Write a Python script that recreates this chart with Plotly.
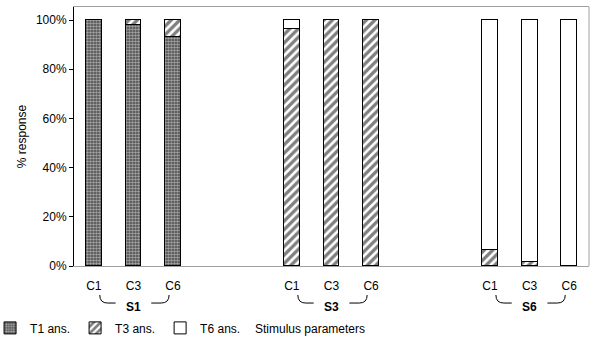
import plotly.graph_objects as go

groups = ["S1", "S3", "S6"]
conditions = ["C1", "C3", "C6"]
t1_ans = [100, 98, 93, 0, 0, 0, 0, 0, 0]
t3_ans = [0, 2, 7, 96.5, 100, 100, 6.5, 1.7, 0]
t6_ans = [0, 0, 0, 3.5, 0, 0, 93.5, 98.3, 100]
y_ticks = [0, 20, 40, 60, 80, 100]
y_tick_text = [f"{v}%" for v in y_ticks]

GROUP_STEP = 5
xs = [g * GROUP_STEP + c for g in range(len(groups)) for c in range(len(conditions))]
xlabels = [c for g in groups for c in conditions]

FONT = "Liberation Sans, Arial, sans-serif"
line = dict(color="black", width=1)

fig = go.Figure()
fig.add_bar(x=xs, y=t1_ans, name="T1 ans.", width=0.4,
            marker=dict(color="white", line=line,
                        pattern=dict(shape=".", size=3, solidity=0.6,
                                     fgcolor="white", bgcolor="#444444", fillmode="overlay")))
fig.add_bar(x=xs, y=t3_ans, name="T3 ans.", width=0.4,
            marker=dict(color="white", line=line,
                        pattern=dict(shape="/", size=6, solidity=0.55,
                                     fgcolor="black", bgcolor="white")))
fig.add_bar(x=xs, y=t6_ans, name="T6 ans.", width=0.4,
            marker=dict(color="white", line=line))

shapes = []
annotations = []
for g, name in enumerate(groups):
    base = g * GROUP_STEP
    left = base + 0.15
    right = base + 1.9
    mid = base + 1
    ytop, ybot = -0.112, -0.143
    shapes.append(dict(type="path", xref="x", yref="paper",
                       path=f"M {left},{ytop} Q {left},{ybot} {left+0.2},{ybot} L {mid-0.45},{ybot}",
                       line=dict(color="black", width=1)))
    shapes.append(dict(type="path", xref="x", yref="paper",
                       path=f"M {mid+0.45},{ybot} L {right-0.2},{ybot} Q {right},{ybot} {right},{ytop}",
                       line=dict(color="black", width=1)))
    annotations.append(dict(x=mid, y=-0.16, xref="x", yref="paper", text=f"<b>{name}</b>",
                            showarrow=False, font=dict(size=12, color="black", family=FONT),
                            xanchor="center", yanchor="middle"))

# right border
shapes.append(dict(type="line", xref="paper", yref="paper", x0=1, x1=1, y0=0, y1=1,
                   line=dict(color="#a0a0a0", width=1)))

annotations.append(dict(x=0.458, y=-0.245, xref="paper", yref="paper", text="Stimulus parameters",
                        showarrow=False, font=dict(size=12, color="black", family=FONT),
                        xanchor="center", yanchor="middle"))

fig.update_layout(
    barmode="stack",
    width=591, height=341,
    margin=dict(l=74, r=2, t=7, b=75, autoexpand=False),
    paper_bgcolor="white", plot_bgcolor="white",
    font=dict(family=FONT, size=12, color="black"),
    showlegend=True,
    legend=dict(orientation="h", x=-0.163, y=-0.239, xanchor="left", yanchor="middle",
                traceorder="normal",
                font=dict(size=12, family=FONT), bgcolor="rgba(0,0,0,0)"),
    shapes=shapes,
    annotations=annotations,
    bargap=0,
)
fig.update_xaxes(range=[-0.5, 12.5], tickvals=xs, ticktext=xlabels, ticks="",
                 ticklabelstandoff=9,
                 showline=True, linecolor="#a0a0a0", mirror=True, showgrid=False,
                 zeroline=False, automargin=False, tickfont=dict(size=12, family=FONT))
fig.update_yaxes(range=[0, 105.3], tickvals=y_ticks, ticktext=y_tick_text, ticks="outside",
                 ticklen=4, tickcolor="black", showline=True, linecolor="black",
                 showgrid=False, zeroline=False, automargin=False,
                 tickfont=dict(size=12, family=FONT),
                 title=dict(text="% response", standoff=6, font=dict(size=12, family=FONT)))

fig.write_html("out.html", config={"displayModeBar": False},
               post_script="document.body.style.margin='0';")
